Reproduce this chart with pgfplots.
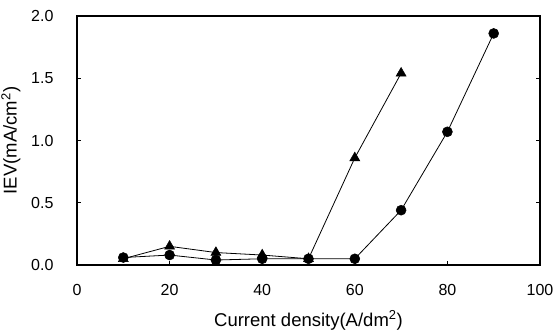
\documentclass[border=0pt]{standalone}
\usepackage{pgfplots}
\pgfplotsset{compat=1.18}
\usepackage{fontspec}
\setmainfont{Liberation Sans}
\begin{document}
\begin{tikzpicture}
\begin{axis}[
  scale only axis,
  width=463pt, height=249pt,
  xmin=0, xmax=100, ymin=0, ymax=2.0,
  xtick={0,20,...,100}, ytick={0,0.5,...,2.0},
  xtick pos=bottom,
  yticklabel style={/pgf/number format/fixed, /pgf/number format/fixed zerofill, /pgf/number format/precision=1},
  /pgf/number format/assume math mode=true,
  tick style={black, line width=0.6pt},
  major tick length=4pt,
  tick align=inside,
  tick label style={font=\fontsize{16}{18}\selectfont},
  xticklabel style={yshift=-16pt},
  yticklabel style={xshift=-20pt},
  xlabel={Current density(A/dm\textsuperscript{2})},
  ylabel={IEV(mA/cm\textsuperscript{2})},
  label style={font=\fontsize{18.5}{20}\selectfont},
  xlabel style={yshift=-8pt},
  ylabel style={yshift=4pt},
  clip=false,
]
\addplot[black, line width=0.8pt, mark=triangle*, mark size=5.8pt, mark options={fill=black, line width=0.5pt}]
  coordinates {(10,0.05) (20,0.15) (30,0.10) (40,0.08) (50,0.05) (60,0.86) (70,1.54)};
\addplot[black, line width=0.8pt, mark=*, mark size=5pt, mark options={fill=black, line width=0.5pt}]
  coordinates {(10,0.06) (20,0.08) (30,0.04) (40,0.05) (50,0.05) (60,0.05) (70,0.44) (80,1.07) (90,1.86)};
\draw[line width=2.8pt] (rel axis cs:0,0) rectangle (rel axis cs:1,1);
\end{axis}
\pgfresetboundingbox
\path (current axis.south west) ++(-77pt,-67pt) rectangle ([xshift=14pt,yshift=16pt]current axis.north east);
\end{tikzpicture}
\end{document}
